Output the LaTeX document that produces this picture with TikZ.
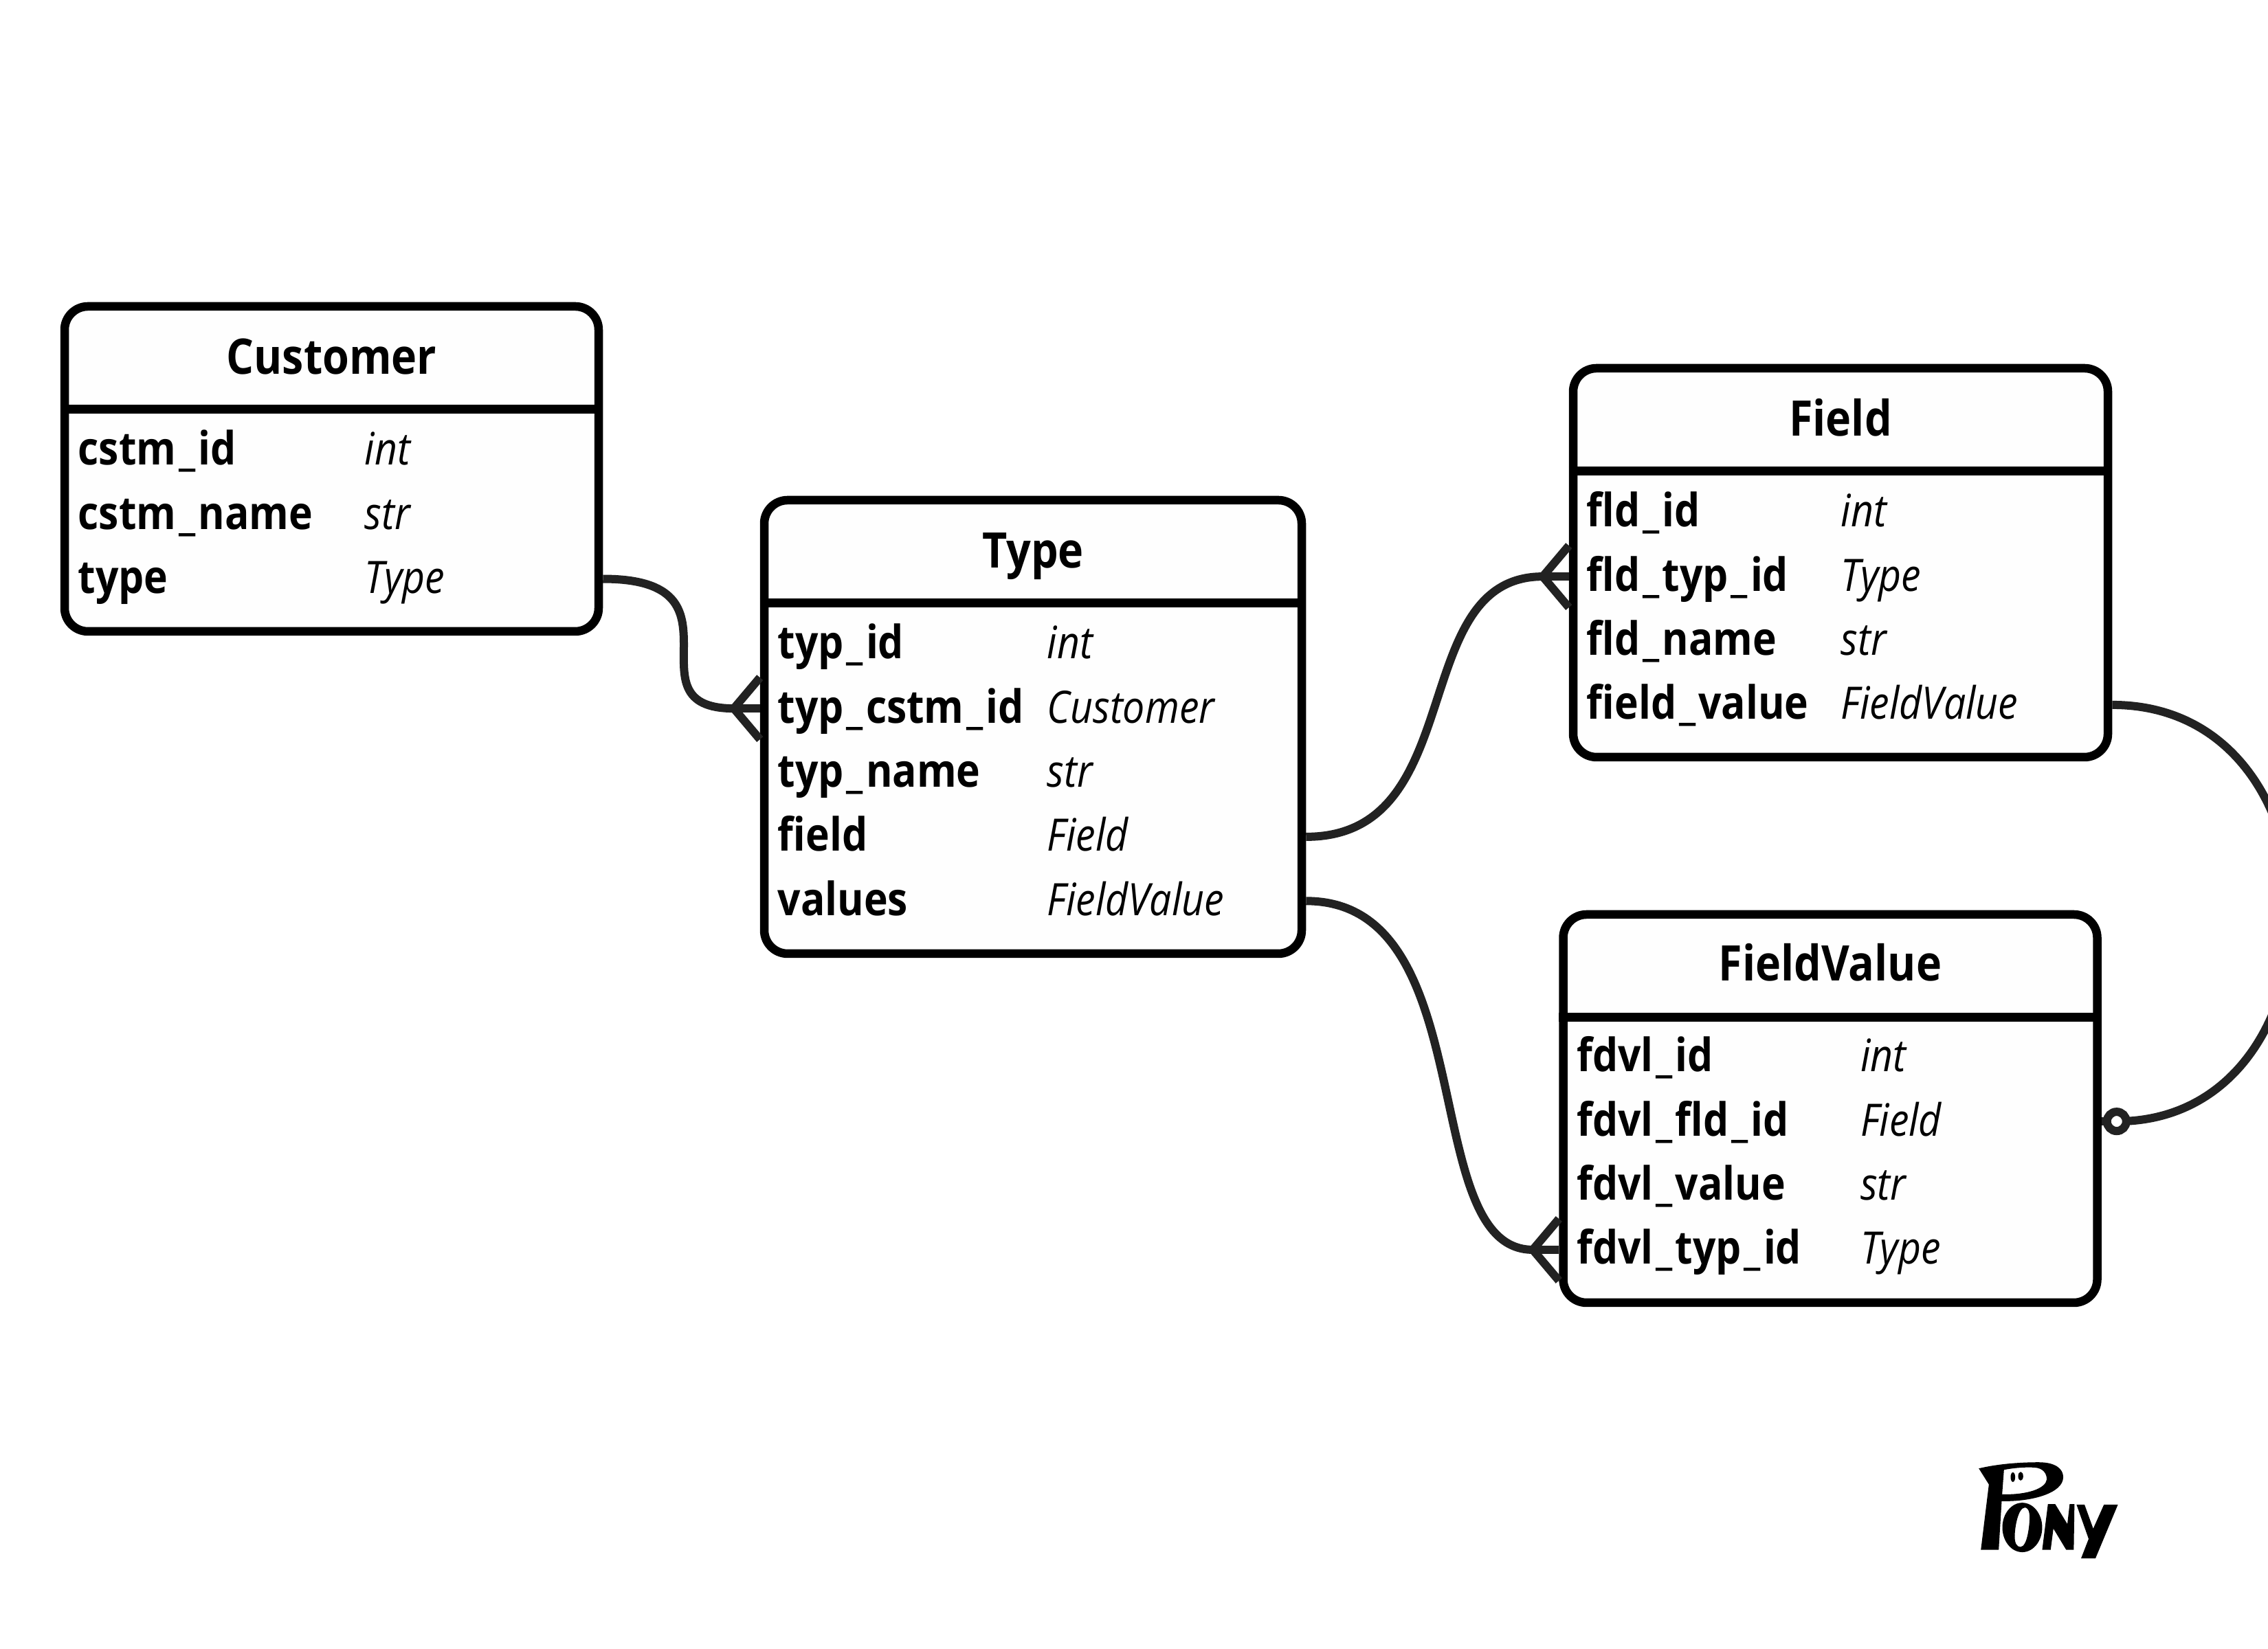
\documentclass[tikz,border=0pt]{standalone}
\usepackage{fontspec}
\setmainfont[FakeStretch=0.88]{Open Sans}
\usepackage{xcolor}
\usetikzlibrary{positioning,calc}
\definecolor{relcolor}{HTML}{222222}
\newcommand{\us}{\kern.06em\_\kern.06em}

\begin{document}
\begin{tikzpicture}[
  node distance=1.14mm,
  entity/.style={draw, line width=1.25mm, rounded corners=3.4mm, minimum width=7.77cm, fill=white!99.5!black},
  entitytitle/.style={inner sep=0, outer sep=0, text height=5.3mm, text depth=2mm, font=\bfseries\fontsize{20.3pt}{20.3pt}\selectfont},
  headline/.style={line width=1.25mm},
  fname/.style={inner sep=0, outer sep=0, anchor=north west, text width=3.8cm, align=left, text height=6.2mm, text depth=2mm, font=\bfseries\fontsize{19pt}{19pt}\selectfont},
  ftype/.style={inner sep=0, outer sep=0, text height=6.2mm, text depth=2mm, font=\itshape\fontsize{18.5pt}{18.5pt}\selectfont},
  rel/.style={line width=1.2mm, draw=relcolor},
  optional/.style={line width=1.2mm, draw=relcolor, fill=white}
]
\clip (0,0) rectangle (33,24);

% Customer
\node[entity, minimum height=4.73cm] (customer) at (4.825,17.175) {};
\node[entitytitle, below=5.2mm of customer.north] (customer-title) {Customer};
\draw[headline] ($(customer.north west)+(0,-1.56)$) -- ($(customer.north east)+(0,-1.56)$);
\node[fname, below right=17.5mm and 2.6mm of customer.north west] (cstm-id) {cstm\us id};
\node[fname, below=of cstm-id] (cstm-name) {cstm\us name};
\node[fname, below=of cstm-name] (cstm-type) {type};
\node[ftype, right=4.17cm of cstm-id.west] (cstm-id-type) {int};
\node[ftype, right=4.17cm of cstm-name.west] (cstm-name-type) {str};
\node[ftype, right=4.17cm of cstm-type.west] (cstm-type-type) {Type};

% Type
\node[entity, minimum width=7.82cm, minimum height=6.6cm] (type) at (15.03,13.42) {};
\node[entitytitle, below=5.2mm of type.north] (type-title) {Type};
\draw[headline] ($(type.north west)+(0,-1.56)$) -- ($(type.north east)+(0,-1.56)$);
\node[fname, below right=17.5mm and 2.6mm of type.north west] (typ-id) {typ\us id};
\node[fname, below=of typ-id] (typ-cstm-id) {typ\us cstm\us id};
\node[fname, below=of typ-cstm-id] (typ-name) {typ\us name};
\node[fname, below=of typ-name] (typ-field) {field};
\node[fname, below=of typ-field] (typ-values) {values};
\node[ftype, right=3.92cm of typ-id.west] (typ-id-type) {int};
\node[ftype, right=3.92cm of typ-cstm-id.west] (typ-cstm-id-type) {Customer};
\node[ftype, right=3.92cm of typ-name.west] (typ-name-type) {str};
\node[ftype, right=3.92cm of typ-field.west] (typ-field-type) {Field};
\node[ftype, right=3.92cm of typ-values.west] (typ-values-type) {FieldValue};

% Field
\node[entity, minimum width=7.78cm, minimum height=5.66cm] (field) at (26.78,15.81) {};
\node[entitytitle, below=5.2mm of field.north] (field-title) {Field};
\draw[headline] ($(field.north west)+(0,-1.56)$) -- ($(field.north east)+(0,-1.56)$);
\node[fname, below right=17.5mm and 2.6mm of field.north west] (fld-id) {fld\us id};
\node[fname, below=of fld-id] (fld-typ-id) {fld\us typ\us id};
\node[fname, below=of fld-typ-id] (fld-name) {fld\us name};
\node[fname, below=of fld-name] (fld-value) {field\us value};
\node[ftype, right=3.70cm of fld-id.west] (fld-id-type) {int};
\node[ftype, right=3.70cm of fld-typ-id.west] (fld-typ-id-type) {Type};
\node[ftype, right=3.70cm of fld-name.west] (fld-name-type) {str};
\node[ftype, right=3.70cm of fld-value.west] (fld-value-type) {FieldValue};

% FieldValue
\node[entity, minimum height=5.65cm] (fieldvalue) at (26.63,7.865) {};
\node[entitytitle, below=5mm of fieldvalue.north] (fieldvalue-title) {FieldValue};
\draw[headline] ($(fieldvalue.north west)+(0,-1.56)$) -- ($(fieldvalue.north east)+(0,-1.56)$);
\node[fname, below right=17.3mm and 2.6mm of fieldvalue.north west] (fdvl-id) {fdvl\us id};
\node[fname, below=of fdvl-id] (fdvl-fld-id) {fdvl\us fld\us id};
\node[fname, below=of fdvl-fld-id] (fdvl-value) {fdvl\us value};
\node[fname, below=of fdvl-value] (fdvl-typ-id) {fdvl\us typ\us id};
\node[ftype, right=4.13cm of fdvl-id.west] (fdvl-id-type) {int};
\node[ftype, right=4.13cm of fdvl-fld-id.west] (fdvl-fld-id-type) {Field};
\node[ftype, right=4.13cm of fdvl-value.west] (fdvl-value-type) {str};
\node[ftype, right=4.13cm of fdvl-typ-id.west] (fdvl-typ-id-type) {Type};

% crow's feet and connectors
\coordinate (crow-type) at ($(type.west |- typ-cstm-id)+(-0.38,0)$);
\coordinate (crow-field) at ($(field.west |- fld-typ-id)+(-0.38,0)$);
\coordinate (crow-value) at ($(fieldvalue.west |- fdvl-typ-id)+(-0.38,0)$);
\coordinate (ring-value) at ($(fieldvalue.east |- fdvl-fld-id)+(0.22,0)$);

\draw[rel] (customer.east |- cstm-type) .. controls +(2.2,0) and +(-1.6,0) .. (crow-type);
\draw[rel] (crow-type) -- (type.west |- typ-cstm-id);
\draw[rel] (crow-type) -- ($(type.west |- typ-cstm-id)+(0,0.45)$);
\draw[rel] (crow-type) -- ($(type.west |- typ-cstm-id)+(0,-0.45)$);

\draw[rel] (type.east |- typ-field) .. controls +(2.4,0) and +(-2,0) .. (crow-field);
\draw[rel] (crow-field) -- (field.west |- fld-typ-id);
\draw[rel] (crow-field) -- ($(field.west |- fld-typ-id)+(0,0.45)$);
\draw[rel] (crow-field) -- ($(field.west |- fld-typ-id)+(0,-0.45)$);

\draw[rel] (type.east |- typ-values) .. controls +(2.6,0) and +(-1.7,0) .. (crow-value);
\draw[rel] (crow-value) -- (fieldvalue.west |- fdvl-typ-id);
\draw[rel] (crow-value) -- ($(fieldvalue.west |- fdvl-typ-id)+(0,0.45)$);
\draw[rel] (crow-value) -- ($(fieldvalue.west |- fdvl-typ-id)+(0,-0.45)$);

\draw[rel] (field.east |- fld-value) .. controls +(3.5,0) and +(3.4,0) .. (ring-value);
\draw[rel] (ring-value) -- (fieldvalue.east |- fdvl-fld-id);
\draw[optional] (ring-value) circle (1.4mm);

% logo
\begin{scope}[shift={(27.5,3.5)}, x=0.0333mm, y=-0.0333mm]
  \fill[even odd rule] (388,262) .. controls (480,240) and (580,235) .. (650,235)
    .. controls (725,235) and (757,265) .. (757,300)
    .. controls (757,370) and (620,408) .. (488,405) -- (475,618) -- (397,618) -- (432,332) -- cycle
    (498,268) .. controls (550,258) and (600,256) .. (630,258)
    .. controls (670,260) and (685,285) .. (685,310)
    .. controls (680,350) and (600,378) .. (490,375) -- cycle;
  \fill (537,300) ellipse (10 and 21);
  \fill (571,296) ellipse (11 and 19);
  \fill[even odd rule] (578,520) ellipse (87 and 108)
    (570,605) .. controls (600,605) and (610,510) .. (610,475) .. controls (610,445) and (600,433) .. (590,433)
    .. controls (560,433) and (545,520) .. (545,560) .. controls (545,590) and (555,605) .. (570,605) -- cycle;
  \fill (665,618) -- (690,418) -- (722,418) -- (775,505) -- (785,418) -- (806,418) -- (803,618) -- (770,618) -- (714,525) -- (702,618) -- cycle;
  \fill (815,420) -- (850,420) -- (888,525) -- (935,420) -- (996,420) -- (898,655) -- (835,655) -- (868,570) -- cycle;
\end{scope}
\end{tikzpicture}
\end{document}
